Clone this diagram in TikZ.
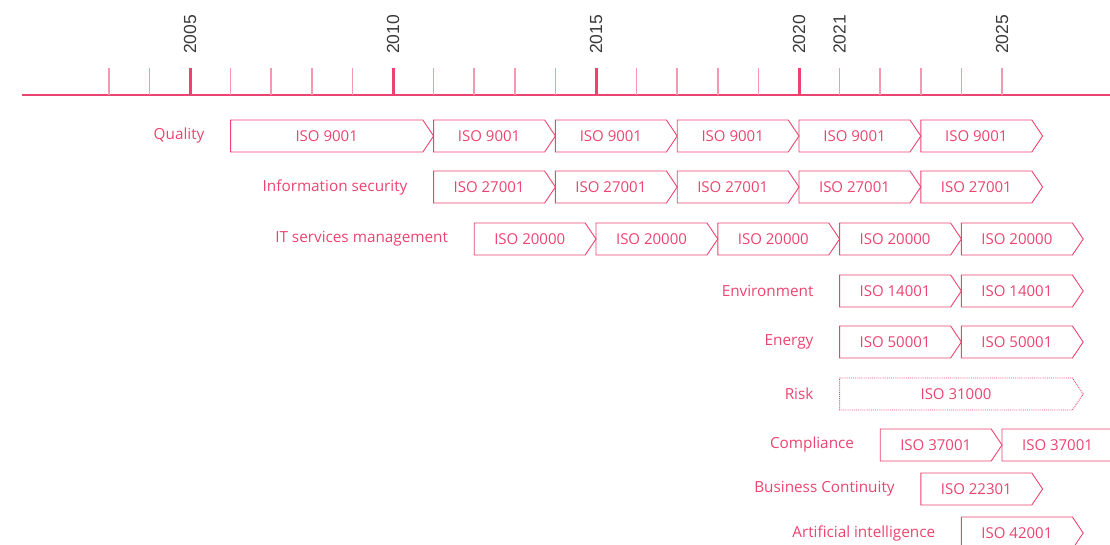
\documentclass[tikz,border=0pt]{standalone}
\usepackage{fontspec}
\setmainfont{Open Sans}
\newfontfamily\yearfont{Liberation Sans}
\usetikzlibrary{positioning,shapes.symbols}
\definecolor{isopink}{HTML}{EC4470}
\definecolor{yeargray}{HTML}{3A3A3A}
\tikzset{
	isobox/.style={draw=isopink, line width=0.9pt, signal, signal to=east, signal from=nowhere, signal pointer angle=112, minimum height=32pt, inner sep=0pt, outer sep=0pt, text=isopink, font=\fontsize{15}{17}\selectfont},
	span3/.style={isobox, minimum width=121.8pt},
	span5/.style={isobox, minimum width=203pt},
	span6/.style={isobox, minimum width=243.6pt, densely dotted},
	area/.style={text=isopink, inner sep=0pt, font=\fontsize{15.3}{17}\selectfont},
	year/.style={rotate=90, anchor=west, inner sep=0pt, text=yeargray, font=\yearfont\fontsize{17.5}{17.5}\selectfont},
	major/.style={draw=isopink, line width=3pt},
	minor/.style={draw=isopink!55, line width=1.5pt},
	axis/.style={draw=isopink, line width=2pt}
}

\begin{document}
\begin{tikzpicture}[x=40.6pt, y=-1pt]
	\useasboundingbox (0.3202,0) rectangle (27.66,544);
	% timeline
	\draw[axis] (0.862,95) -- (27.66,95);
	\foreach \t in {3,4,6,7,8,9,11,12,13,14,16,17,18,19,21,22,23,24,25}
		\draw[minor] (\t,68) -- (\t,95);
	\foreach \t in {5,10,15,20}
		\draw[major] (\t,68) -- (\t,95);
	\foreach \t/\lab in {5/2005,10/2010,15/2015,20/2020,21/2021,25/2025}
		\node[year] (y\t) at (\t,54) {\lab};
	% Quality
	\node[span5, anchor=west] (q1) at (6,136) {ISO 9001};
	\node[span3, right=0pt of q1] (q2) {ISO 9001};
	\node[span3, right=0pt of q2] (q3) {ISO 9001};
	\node[span3, right=0pt of q3] (q4) {ISO 9001};
	\node[span3, right=0pt of q4] (q5) {ISO 9001};
	\node[span3, right=0pt of q5] (q6) {ISO 9001};
	\node[area, left=26pt of q1] (quality) {Quality};
	% Information security
	\node[span3, anchor=west] (s1) at (11,187) {ISO 27001};
	\node[span3, right=0pt of s1] (s2) {ISO 27001};
	\node[span3, right=0pt of s2] (s3) {ISO 27001};
	\node[span3, right=0pt of s3] (s4) {ISO 27001};
	\node[span3, right=0pt of s4] (s5) {ISO 27001};
	\node[area, left=26pt of s1] (security) {Information security};
	% IT services management
	\node[span3, anchor=west] (t1) at (12,239) {ISO 20000};
	\node[span3, right=0pt of t1] (t2) {ISO 20000};
	\node[span3, right=0pt of t2] (t3) {ISO 20000};
	\node[span3, right=0pt of t3] (t4) {ISO 20000};
	\node[span3, right=0pt of t4] (t5) {ISO 20000};
	\node[area, left=26pt of t1] (itsm) {IT services management};
	% Environment
	\node[span3, anchor=west] (e1) at (21,291) {ISO 14001};
	\node[span3, right=0pt of e1] (e2) {ISO 14001};
	\node[area, left=26pt of e1] (environment) {Environment};
	% Energy
	\node[span3, anchor=west] (n1) at (21,342) {ISO 50001};
	\node[span3, right=0pt of n1] (n2) {ISO 50001};
	\node[area, left=26pt of n1] (energy) {Energy};
	% Risk
	\node[span6, anchor=west] (r1) at (21,394) {ISO 31000};
	\node[area, left=26pt of r1] (risk) {Risk};
	% Compliance
	\node[span3, anchor=west] (c1) at (22,445) {ISO 37001};
	\node[span3, right=0pt of c1] (c2) {ISO 37001};
	\node[area, left=26pt of c1] (compliance) {Compliance};
	% Business Continuity
	\node[span3, anchor=west] (b1) at (23,489) {ISO 22301};
	\node[area, left=26pt of b1] (continuity) {Business Continuity};
	% Artificial intelligence
	\node[span3, anchor=west] (a1) at (24,533) {ISO 42001};
	\node[area, left=26pt of a1] (ai) {Artificial intelligence};
\end{tikzpicture}
\end{document}
